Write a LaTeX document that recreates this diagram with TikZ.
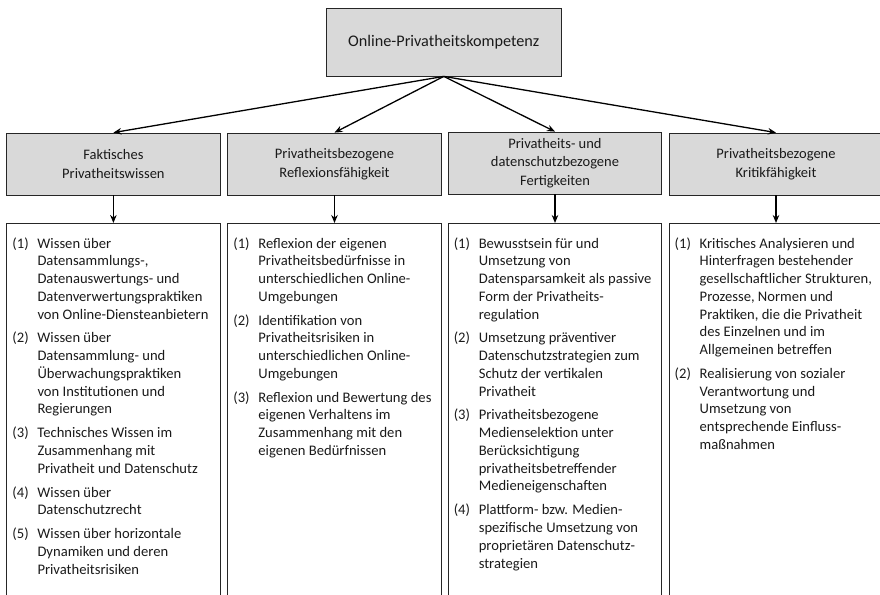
\documentclass[tikz,border=0pt]{standalone}
\usepackage{fontspec}
\setmainfont{Carlito}
\usetikzlibrary{arrows.meta}
\definecolor{headfill}{HTML}{D9D9D9}
\definecolor{linec}{HTML}{262626}
\definecolor{textc}{HTML}{1A1A1A}
\newcommand{\lst}[1]{\begin{tabular}[t]{@{}p{25pt}@{}l@{}}#1\end{tabular}}
\begin{document}
\begin{tikzpicture}[x=1pt,y=-1pt,
  hbox/.style={draw=linec, fill=headfill, line width=0.8pt, inner sep=0pt, align=center,
    minimum width=213.5pt, minimum height=62pt, font=\fontsize{14.5}{18.5}\selectfont, text=textc},
  lbox/.style={draw=linec, line width=0.8pt, inner sep=0pt, minimum width=213.5pt, minimum height=420pt},
  ltext/.style={anchor=base west, inner sep=0pt, text=textc, font=\fontsize{14.6}{17.75}\selectfont},
  arr/.style={line width=1.3pt, draw=black, -{Stealth[length=8pt,width=6.5pt]}}]
\useasboundingbox (0,0) rectangle (880,594);
\clip (0,0) rectangle (880,594);
% top node
\node[hbox, minimum width=234.5pt, minimum height=68pt, font=\fontsize{16.2}{19}\selectfont] (top) at (443.75,42) {Online-Privatheitskompetenz};
% headings
\node[hbox] (h1) at (113.4,164) {Faktisches\\Privatheitswissen};
\node[hbox] (h2) at (334.5,164) {Privatheitsbezogene\\Reflexionsfähigkeit};
\node[hbox] (h3) at (555,163) {Privatheits- und\\datenschutzbezogene\\Fertigkeiten};
\node[hbox] (h4) at (776,164) {Privatheitsbezogene\\Kritikfähigkeit};
% list boxes
\node[lbox, anchor=north] (l1) at (113.4,223) {};
\node[lbox, anchor=north] (l2) at (334.5,223) {};
\node[lbox, anchor=north] (l3) at (555,223) {};
\node[lbox, anchor=north] (l4) at (776,223) {};
% arrows
\draw[arr] (top.south) -- (h1.north);
\draw[arr] (top.south) -- (h2.north);
\draw[arr] (top.south) -- (h3.north);
\draw[arr] (top.south) -- (h4.north);
\draw[arr] (h1.south) -- (l1.north);
\draw[arr] (h2.south) -- (l2.north);
\draw[arr] (h3.south) -- (l3.north);
\draw[arr] (h4.south) -- (l4.north);
% list texts
\node[ltext] (t1) at (12.3,248) {\lst{%
(1) & Wissen über\\
 & Datensammlungs-,\\
 & Datenauswertungs- und\\
 & Datenverwertungspraktiken\\
 & von Online-Diensteanbietern\\[6.1pt]
(2) & Wissen über\\
 & Datensammlung- und\\
 & Überwachungspraktiken\\
 & von Institutionen und\\
 & Regierungen\\[6.1pt]
(3) & Technisches Wissen im\\
 & Zusammenhang mit\\
 & Privatheit und Datenschutz\\[6.1pt]
(4) & Wissen über\\
 & Datenschutzrecht\\[6.1pt]
(5) & Wissen über horizontale\\
 & Dynamiken und deren\\
 & Privatheitsrisiken}};
\node[ltext] (t2) at (233.2,248) {\lst{%
(1) & Reflexion der eigenen\\
 & Privatheitsbedürfnisse in\\
 & unterschiedlichen Online-\\
 & Umgebungen\\[6.1pt]
(2) & Identifikation von\\
 & Privatheitsrisiken in\\
 & unterschiedlichen Online-\\
 & Umgebungen\\[6.1pt]
(3) & Reflexion und Bewertung des\\
 & eigenen Verhaltens im\\
 & Zusammenhang mit den\\
 & eigenen Bedürfnissen}};
\node[ltext] (t3) at (453.6,248) {\lst{%
(1) & Bewusstsein für und\\
 & Umsetzung von\\
 & Datensparsamkeit als passive\\
 & Form der Privatheits-\\
 & regulation\\[6.1pt]
(2) & Umsetzung präventiver\\
 & Datenschutzstrategien zum\\
 & Schutz der vertikalen\\
 & Privatheit\\[6.1pt]
(3) & Privatheitsbezogene\\
 & Medienselektion unter\\
 & Berücksichtigung\\
 & privatheitsbetreffender\\
 & Medieneigenschaften\\[6.1pt]
(4) & Plattform- bzw. Medien-\\
 & spezifische Umsetzung von\\
 & proprietären Datenschutz-\\
 & strategien}};
\node[ltext] (t4) at (674.5,248) {\lst{%
(1) & Kritisches Analysieren und\\
 & Hinterfragen bestehender\\
 & gesellschaftlicher Strukturen,\\
 & Prozesse, Normen und\\
 & Praktiken, die die Privatheit\\
 & des Einzelnen und im\\
 & Allgemeinen betreffen\\[6.1pt]
(2) & Realisierung von sozialer\\
 & Verantwortung und\\
 & Umsetzung von\\
 & entsprechende Einfluss-\\
 & maßnahmen}};
\end{tikzpicture}
\end{document}
